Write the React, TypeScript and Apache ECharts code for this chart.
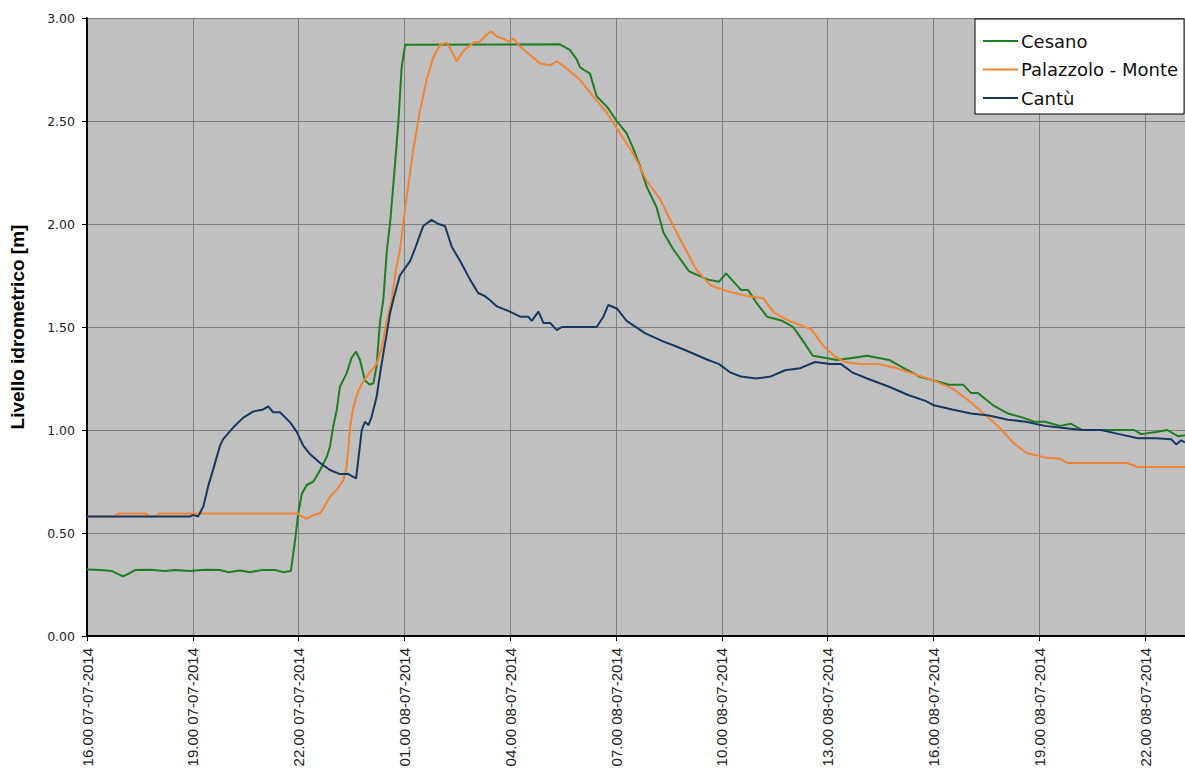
import React, { useEffect, useRef } from "react";
import * as echarts from "echarts";

// Time in hours since 16.00 07-07-2014
const cesanoT = [0, 0.37, 0.71, 0.88, 1.02, 1.16, 1.36, 1.79, 2.21, 2.5, 2.92, 3.35, 3.77, 4.0, 4.34, 4.62, 4.96, 5.33, 5.56, 5.78, 5.9, 5.99, 6.09, 6.23, 6.42, 6.61, 6.8, 6.89, 6.98, 7.08, 7.17, 7.36, 7.5, 7.63, 7.74, 7.88, 8.02, 8.12, 8.21, 8.26, 8.31, 8.4, 8.5, 8.59, 8.68, 8.83, 8.92, 9.02, 13.41, 13.69, 13.88, 13.98, 14.26, 14.45, 14.74, 15.02, 15.3, 15.48, 15.68, 15.87, 16.15, 16.34, 16.61, 17.07, 17.61, 17.92, 18.12, 18.54, 18.74, 18.97, 19.28, 19.71, 20.02, 20.27, 20.58, 20.95, 21.26, 21.69, 22.12, 22.74, 23.16, 23.59, 24.01, 24.44, 24.84, 25.06, 25.26, 25.69, 26.11, 26.54, 26.85, 27.16, 27.59, 27.9, 28.21, 28.83, 29.26, 29.69, 29.88, 30.31, 30.62, 30.93, 31.13];
const cesanoV = [0.323, 0.32, 0.315, 0.3, 0.29, 0.3, 0.32, 0.322, 0.315, 0.32, 0.315, 0.322, 0.32, 0.31, 0.318, 0.31, 0.32, 0.32, 0.31, 0.315, 0.466, 0.596, 0.69, 0.733, 0.75, 0.806, 0.87, 0.92, 1.016, 1.097, 1.21, 1.275, 1.35, 1.38, 1.34, 1.24, 1.22, 1.227, 1.31, 1.42, 1.53, 1.63, 1.87, 2.0, 2.18, 2.5, 2.76, 2.87, 2.872, 2.845, 2.8, 2.76, 2.73, 2.62, 2.57, 2.5, 2.44, 2.37, 2.28, 2.18, 2.08, 1.96, 1.88, 1.77, 1.73, 1.72, 1.76, 1.68, 1.68, 1.62, 1.55, 1.53, 1.5, 1.44, 1.36, 1.35, 1.34, 1.35, 1.36, 1.34, 1.3, 1.26, 1.24, 1.22, 1.22, 1.18, 1.18, 1.12, 1.08, 1.06, 1.04, 1.04, 1.02, 1.03, 1.0, 1.0, 1.0, 1.0, 0.98, 0.99, 1.0, 0.97, 0.975];

const palazzoloT = [0, 0.79, 0.88, 1.67, 1.76, 1.96, 2.04, 5.98, 6.09, 6.23, 6.42, 6.61, 6.7, 6.89, 7.08, 7.27, 7.36, 7.46, 7.55, 7.69, 7.83, 8.02, 8.21, 8.36, 8.5, 8.64, 8.76, 8.87, 9.02, 9.25, 9.44, 9.63, 9.82, 10.01, 10.2, 10.34, 10.48, 10.67, 10.95, 11.14, 11.33, 11.47, 11.62, 11.8, 11.95, 12.09, 12.28, 12.56, 12.84, 13.13, 13.32, 13.6, 13.98, 14.35, 14.74, 15.11, 15.49, 15.87, 16.25, 16.62, 16.96, 17.27, 17.69, 18.23, 18.74, 19.17, 19.48, 19.9, 20.53, 20.87, 21.18, 21.49, 21.92, 22.43, 22.97, 23.48, 24.01, 24.55, 25.06, 25.49, 25.91, 26.25, 26.62, 27.16, 27.59, 27.79, 29.49, 29.8, 31.13];
const palazzoloV = [0.58, 0.58, 0.595, 0.595, 0.58, 0.58, 0.595, 0.595, 0.58, 0.57, 0.587, 0.596, 0.62, 0.676, 0.71, 0.757, 0.82, 1.016, 1.11, 1.19, 1.235, 1.28, 1.32, 1.4, 1.53, 1.63, 1.78, 1.87, 2.08, 2.36, 2.55, 2.7, 2.81, 2.87, 2.88, 2.84, 2.79, 2.84, 2.88, 2.885, 2.92, 2.935, 2.91, 2.9, 2.885, 2.9, 2.86, 2.82, 2.78, 2.77, 2.79, 2.755, 2.7, 2.62, 2.54, 2.44, 2.34, 2.21, 2.12, 1.99, 1.88, 1.78, 1.7, 1.67, 1.65, 1.64, 1.57, 1.53, 1.49, 1.41, 1.36, 1.33, 1.32, 1.32, 1.3, 1.27, 1.24, 1.2, 1.135, 1.07, 1.005, 0.94, 0.89, 0.867, 0.86, 0.84, 0.84, 0.82, 0.82];

const cantuT = [0, 2.92, 3.01, 3.15, 3.3, 3.44, 3.58, 3.77, 3.86, 4.15, 4.43, 4.72, 5.0, 5.14, 5.28, 5.47, 5.76, 5.95, 6.13, 6.32, 6.61, 6.89, 7.17, 7.41, 7.63, 7.69, 7.79, 7.88, 7.98, 8.07, 8.21, 8.31, 8.4, 8.5, 8.59, 8.68, 8.87, 9.16, 9.3, 9.53, 9.77, 9.96, 10.15, 10.34, 10.58, 10.86, 11.09, 11.28, 11.43, 11.62, 11.99, 12.28, 12.51, 12.61, 12.8, 12.94, 13.13, 13.32, 13.46, 13.98, 14.45, 14.64, 14.78, 15.02, 15.3, 15.82, 16.33, 16.64, 17.07, 17.61, 17.92, 18.23, 18.54, 18.97, 19.39, 19.79, 20.22, 20.64, 21.07, 21.38, 21.69, 22.12, 22.74, 23.28, 23.79, 24.01, 24.53, 25.06, 25.57, 26.11, 26.62, 27.16, 27.7, 28.21, 28.75, 29.26, 29.8, 30.31, 30.74, 30.88, 31.02, 31.13];
const cantuV = [0.58, 0.58, 0.588, 0.58, 0.63, 0.73, 0.81, 0.924, 0.956, 1.013, 1.06, 1.09, 1.1, 1.115, 1.086, 1.086, 1.037, 0.99, 0.924, 0.883, 0.84, 0.806, 0.786, 0.786, 0.765, 0.854, 1.0, 1.04, 1.024, 1.064, 1.16, 1.275, 1.37, 1.47, 1.566, 1.63, 1.75, 1.82, 1.88, 1.99, 2.02, 2.0, 1.99, 1.89, 1.82, 1.73, 1.665, 1.65, 1.63, 1.6, 1.575, 1.55, 1.55, 1.53, 1.575, 1.52, 1.52, 1.485, 1.5, 1.5, 1.5, 1.55, 1.607, 1.59, 1.53, 1.47, 1.43, 1.41, 1.38, 1.34, 1.32, 1.28, 1.26, 1.25, 1.26, 1.29, 1.3, 1.33, 1.32, 1.32, 1.28, 1.25, 1.21, 1.17, 1.14, 1.12, 1.1, 1.08, 1.07, 1.05, 1.04, 1.02, 1.01, 1.0, 1.0, 0.98, 0.96, 0.96, 0.955, 0.93, 0.95, 0.94];

const seriesNames = ["Cesano", "Palazzolo - Monte", "Cantù"];
const seriesColors = ["#1f7d24", "#f28434", "#17375e"];

const pair = (t: number[], v: number[]) => t.map((x, i) => [x, v[i]]);

function fmtX(v: number) {
  const h = 16 + Math.round(v);
  const day = h >= 24 ? "08" : "07";
  const hh = String(h % 24).padStart(2, "0");
  return `${hh}.00 ${day}-07-2014`;
}

export default function App() {
  const ref = useRef<HTMLDivElement>(null);
  useEffect(() => {
    if (!ref.current) return;
    const chart = echarts.init(ref.current, null, { renderer: "svg" });
    const data = [pair(cesanoT, cesanoV), pair(palazzoloT, palazzoloV), pair(cantuT, cantuV)];
    chart.setOption({
      animation: false,
      backgroundColor: "#ffffff",
      grid: {
        left: 87,
        top: 18,
        right: 0,
        bottom: 135,
        show: true,
        backgroundColor: "#c0c0c0",
        borderWidth: 0,
      },
      legend: {
        orient: "vertical",
        left: 975,
        top: 19,
        backgroundColor: "#ffffff",
        borderColor: "#000000",
        borderWidth: 1,
        padding: [12, 6, 6, 8],
        itemGap: 8.5,
        itemWidth: 35,
        itemHeight: 2,
        icon: "rect",
        textStyle: { fontFamily: "DejaVu Sans", fontSize: 18, color: "#111", lineHeight: 20, padding: [0, 0, 0, -2] },
        data: seriesNames,
      },
      xAxis: {
        type: "value",
        min: 0,
        max: 31.13,
        interval: 3,
        axisLine: { show: true, onZero: false, lineStyle: { color: "#000", width: 2 } },
        axisTick: { show: true, length: 5, lineStyle: { color: "#000" } },
        axisLabel: {
          rotate: 90,
          margin: 12,
          showMaxLabel: false,
          fontFamily: "Liberation Sans",
          fontSize: 15,
          color: "#222",
          formatter: fmtX,
        },
        splitLine: { show: true, lineStyle: { color: "#7f7f7f", width: 1 } },
      },
      yAxis: {
        type: "value",
        min: 0,
        max: 3,
        interval: 0.5,
        name: "Livello idrometrico [m]",
        nameLocation: "middle",
        nameGap: 60,
        nameTextStyle: { fontFamily: "Liberation Sans", fontWeight: "bold", fontSize: 19, color: "#000" },
        axisLine: { show: true, lineStyle: { color: "#000", width: 2 } },
        axisTick: { show: true, length: 5, lineStyle: { color: "#000" } },
        axisLabel: {
          margin: 12,
          fontFamily: "DejaVu Sans",
          fontSize: 12.5,
          color: "#222",
          formatter: (v: number) => v.toFixed(2),
        },
        splitLine: { show: true, lineStyle: { color: "#7f7f7f", width: 1 } },
      },
      series: seriesNames.map((n, i) => ({
        name: n,
        type: "line",
        data: data[i],
        symbol: "none",
        showSymbol: false,
        smooth: false,
        color: seriesColors[i],
        lineStyle: { color: seriesColors[i], width: 2 },
      })),
    });
    return () => chart.dispose();
  }, []);
  return <div ref={ref} style={{ position: "absolute", left: 0, top: 0, width: 1185, height: 771 }} />;
}
